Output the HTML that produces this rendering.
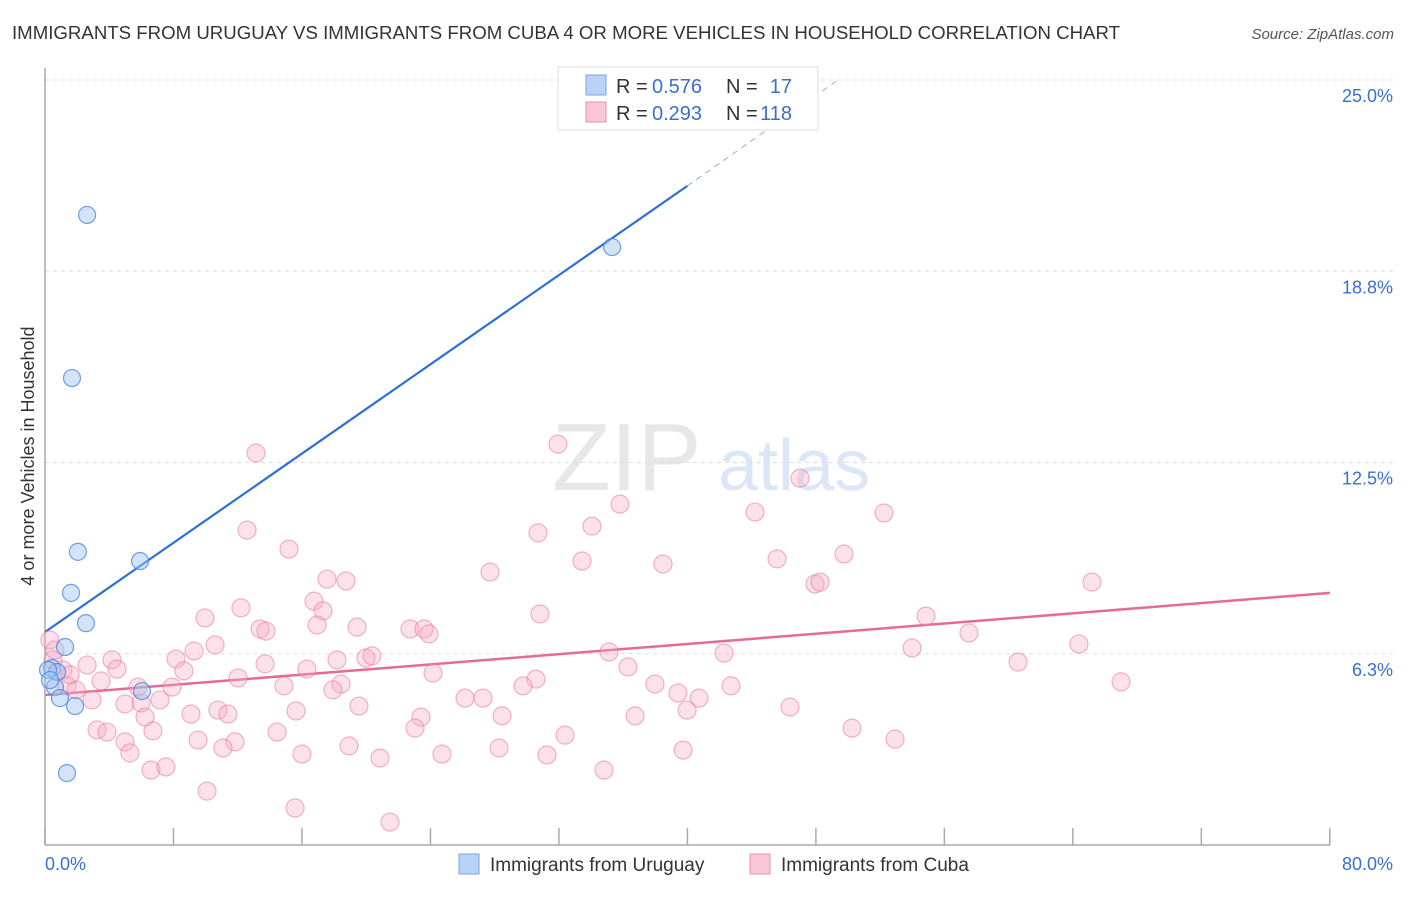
<!DOCTYPE html>
<html><head><meta charset="utf-8"><style>
body{margin:0;background:#fff;font-family:"Liberation Sans",sans-serif}
svg text{font-family:"Liberation Sans",sans-serif}
</style></head><body>
<svg id="chart" width="1406" height="892" xmlns="http://www.w3.org/2000/svg">
<text x="12" y="39" font-size="18" fill="#333" textLength="1108" lengthAdjust="spacingAndGlyphs">IMMIGRANTS FROM URUGUAY VS IMMIGRANTS FROM CUBA 4 OR MORE VEHICLES IN HOUSEHOLD CORRELATION CHART</text>
<text x="1394" y="39" font-size="15" fill="#555" text-anchor="end" font-style="italic">Source: ZipAtlas.com</text>
<text transform="translate(34,456) rotate(-90)" font-size="18" fill="#333" text-anchor="middle">4 or more Vehicles in Household</text>
<g opacity="0.5"><text x="552" y="490" font-size="96" fill="#d0d0d0" font-family="Liberation Serif">ZIP</text><text x="718" y="490" font-size="72" fill="#b8d0f0">atlas</text></g>
<g id="grid"></g><g id="axes"></g><g id="lines"></g><g id="pts"></g>
<g>
<rect x="558" y="67" width="260" height="63" fill="#fff" stroke="#ddd"/>
<rect x="586" y="75" width="20" height="20" fill="#b8d3f5" stroke="#7aa5e0"/>
<rect x="586" y="102" width="20" height="20" fill="#f9c6d6" stroke="#e890ad"/>
<text x="616" y="93" font-size="20" fill="#333">R =</text>
<text x="652" y="93" font-size="20" fill="#3a6fd0">0.576</text>
<text x="726" y="93" font-size="20" fill="#333">N =</text>
<text x="792" y="93" font-size="20" fill="#3a6fd0" text-anchor="end">17</text>
<text x="616" y="120" font-size="20" fill="#333">R =</text>
<text x="652" y="120" font-size="20" fill="#3a6fd0">0.293</text>
<text x="726" y="120" font-size="20" fill="#333">N =</text>
<text x="792" y="120" font-size="20" fill="#3a6fd0" text-anchor="end">118</text>
</g>
<g>
<rect x="459" y="854" width="20" height="20" fill="#b8d3f5" stroke="#7aa5e0"/>
<text x="490" y="871" font-size="19" fill="#333">Immigrants from Uruguay</text>
<rect x="750" y="854" width="20" height="20" fill="#f9c6d6" stroke="#e890ad"/>
<text x="781" y="871" font-size="19" fill="#333">Immigrants from Cuba</text>
</g>
</svg>
<script>
const uruguayX=[2.62,35.31,1.68,2.05,5.92,1.62,2.55,1.25,0.44,0.75,0.62,0.93,1.87,6.04,1.37,0.19,0.31];
const uruguayY=[20.59,19.54,15.26,9.58,9.28,8.24,7.25,6.47,5.78,5.65,5.16,4.80,4.54,5.03,2.35,5.72,5.39];
const cubaX=[13.14,31.94,47.01,35.80,12.58,34.06,30.70,44.21,52.24,15.19,27.71,33.44,38.48,45.58,49.75,17.56,18.74,47.95,48.26,65.19,16.75,12.20,17.31,9.96,30.82,54.86,16.94,19.43,13.39,13.76,22.73,23.60,23.91,57.53,10.59,9.28,35.12,42.28,53.99,64.38,4.17,8.16,19.99,20.36,18.18,13.70,16.31,60.59,2.62,4.48,8.65,24.16,36.30,1.12,0.50,12.02,3.49,67.00,30.57,29.76,37.98,42.71,14.88,18.43,1.37,1.93,7.91,5.79,17.93,26.15,27.27,40.72,39.41,2.93,7.16,4.98,5.98,10.77,15.63,9.09,11.39,19.55,36.74,39.98,46.39,28.46,23.41,6.23,1.56,3.24,3.86,6.72,23.04,50.25,14.45,9.53,11.83,4.98,32.38,52.93,18.93,28.27,11.08,39.73,5.29,16.00,24.72,31.26,20.86,6.60,7.53,34.81,10.09,15.57,21.48,0.31,0.62];
const cubaY=[12.81,13.10,11.99,11.14,10.29,10.42,10.20,10.88,10.85,9.67,8.92,9.28,9.18,9.35,9.51,8.69,8.63,8.53,8.59,8.59,7.97,7.75,7.65,7.42,7.55,7.48,7.19,7.12,7.06,6.99,7.06,7.06,6.90,6.93,6.54,6.34,6.31,6.27,6.44,6.57,6.05,6.08,6.11,6.18,6.05,5.92,5.75,5.98,5.88,5.75,5.69,5.62,5.82,5.72,6.05,5.46,5.36,5.33,5.42,5.20,5.26,5.20,5.20,5.26,5.20,5.07,5.16,5.16,5.07,4.80,4.80,4.80,4.97,4.74,4.74,4.61,4.64,4.41,4.38,4.28,4.28,4.54,4.22,4.41,4.51,4.22,4.18,4.18,5.56,3.76,3.69,3.73,3.82,3.82,3.69,3.43,3.37,3.37,3.59,3.46,3.24,3.17,3.17,3.10,3.01,2.97,2.97,2.94,2.84,2.45,2.55,2.45,1.76,1.21,0.75,6.70,6.37];
const yTicks=[25,18.75,12.5,6.25];
const yTickLabels=["25.0%","18.8%","12.5%","6.3%"];
const xTicks=[0,8,16,24,32,40,48,56,64,72,80];
const blueTrend=[0,6.96,40,21.54,49.37,25];
const pinkTrend=[0,4.90,80,8.24];
const X=v=>45+v*16.06, Y=v=>845-v*30.6;
const NS="http://www.w3.org/2000/svg";
function mk(p,t,a){const e=document.createElementNS(NS,t);for(const k in a)e.setAttribute(k,a[k]);document.getElementById(p).appendChild(e);return e;}
yTicks.forEach((t,i)=>{
 const g=mk('grid','line',{x1:45,x2:1394,y1:Y(t),y2:Y(t),stroke:'#ddd','stroke-dasharray':'4,4'});
 
 
 const l=mk('axes','text',{x:1393,y:Y(t)+22,'font-size':18,fill:'#3a6fd0','text-anchor':'end'});
 l.textContent=yTickLabels[i];
 
 
});
let ax=mk('axes','line',{x1:45,x2:1330,y1:845,y2:845,stroke:'#aaa','stroke-width':1.5});


ax=mk('axes','line',{x1:45,x2:45,y1:68,y2:845,stroke:'#aaa','stroke-width':1.5});


xTicks.forEach(t=>{const e=mk('axes','line',{x1:X(t),x2:X(t),y1:828,y2:845,stroke:'#aaa','stroke-width':1.5});
 
 });
let t0=mk('axes','text',{x:45,y:870,'font-size':18,fill:'#3a6fd0'});t0.textContent='0.0%';


let t1=mk('axes','text',{x:1393,y:870,'font-size':18,fill:'#3a6fd0','text-anchor':'end'});t1.textContent='80.0%';


cubaX.forEach((x,i)=>{const c=mk('pts','circle',{cx:X(x),cy:Y(cubaY[i]),r:9,fill:'rgba(246,170,195,0.35)',stroke:'rgba(230,120,160,0.55)','stroke-width':1.2});
 
 });
uruguayX.forEach((x,i)=>{const c=mk('pts','circle',{cx:X(x),cy:Y(uruguayY[i]),r:8.5,fill:'rgba(160,195,240,0.45)',stroke:'rgba(70,130,220,0.75)','stroke-width':1.2});
 
 });
let b=mk('lines','line',{x1:X(blueTrend[0]),y1:Y(blueTrend[1]),x2:X(blueTrend[2]),y2:Y(blueTrend[3]),stroke:'#2e6fd8','stroke-width':2.2});


b=mk('lines','line',{x1:X(blueTrend[2]),y1:Y(blueTrend[3]),x2:X(blueTrend[4]),y2:Y(blueTrend[5]),stroke:'#8aaee0','stroke-width':1,'stroke-dasharray':'6,5'});


b=mk('lines','line',{x1:X(pinkTrend[0]),y1:Y(pinkTrend[1]),x2:X(pinkTrend[2]),y2:Y(pinkTrend[3]),stroke:'#e66a95','stroke-width':2.5});


</script>
</body></html>
